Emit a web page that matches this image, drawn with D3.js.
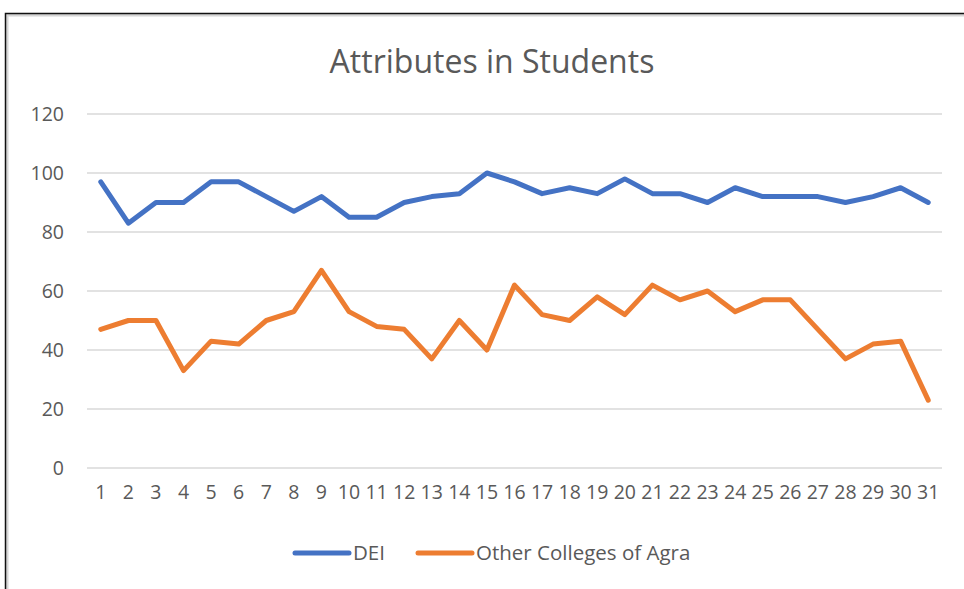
<!DOCTYPE html>
<html>
<head>
<meta charset="utf-8">
<script src="https://cdn.jsdelivr.net/npm/d3@7"></script>
<style>
  html, body { margin: 0; padding: 0; background: #fff; }
  svg { display: block; font-family: "Open Sans", sans-serif; }
</style>
</head>
<body>
<div id="chart"></div>
<script>
const days = d3.range(1, 32).map(String);
const dei = [97, 83, 90, 90, 97, 97, 92, 87, 92, 85, 85, 90, 92, 93, 100, 97, 93, 95, 93, 98,
  93, 93, 90, 95, 92, 92, 92, 90, 92, 95, 90];
const others = [47, 50, 50, 33, 43, 42, 50, 53, 67, 53, 48, 47, 37, 50, 40, 62, 52, 50, 58, 52,
  62, 57, 60, 53, 57, 57, 47, 37, 42, 43, 23];
const yTicks = [0, 20, 40, 60, 80, 100, 120];
const seriesNames = ['DEI', 'Other Colleges of Agra'];
const seriesColors = ['#4472C4', '#ED7D31'];

const W = 964, H = 589;
const m = { left: 87, right: 22, top: 114, bottom: 121 };

const svg = d3.select('#chart').append('svg').attr('width', W).attr('height', H);

// frame of the pasted chart
svg.append('path')
  .attr('d', `M7,${H} V15 H${W}`)
  .attr('fill', 'none').attr('stroke', '#d6d6d6').attr('stroke-width', 3);
svg.append('path')
  .attr('d', `M5.5,${H} V13.5 H${W}`)
  .attr('fill', 'none').attr('stroke', '#111').attr('stroke-width', 1.5);

const x = d3.scaleBand().domain(days).range([m.left, W - m.right]);
const y = d3.scaleLinear().domain([0, 120]).range([H - m.bottom, m.top]);

svg.append('text')
  .attr('x', 492).attr('y', 73)
  .attr('text-anchor', 'middle')
  .attr('font-size', 32).attr('fill', '#595959')
  .text('Attributes in Students');

// grid
svg.append('g')
  .selectAll('line')
  .data(yTicks)
  .join('line')
  .attr('x1', m.left).attr('x2', W - m.right)
  .attr('y1', (d) => y(d)).attr('y2', (d) => y(d))
  .attr('stroke', '#d9d9d9').attr('stroke-width', 1.5);

// y labels
svg.append('g')
  .selectAll('text')
  .data(yTicks)
  .join('text')
  .attr('x', 64).attr('y', (d) => y(d))
  .attr('dy', '0.36em')
  .attr('text-anchor', 'end')
  .attr('font-size', 19.5).attr('fill', '#595959')
  .text((d) => d);

// x labels
svg.append('g')
  .selectAll('text')
  .data(days)
  .join('text')
  .attr('x', (d) => x(d) + x.bandwidth() / 2).attr('y', 499)
  .attr('text-anchor', 'middle')
  .attr('font-size', 19.5).attr('fill', '#595959')
  .text((d) => d);

const line = d3.line()
  .x((d, i) => x(days[i]) + x.bandwidth() / 2)
  .y((d) => y(d));

[dei, others].forEach((vals, i) => {
  svg.append('path')
    .datum(vals)
    .attr('d', line)
    .attr('fill', 'none')
    .attr('stroke', seriesColors[i])
    .attr('stroke-width', 5)
    .attr('stroke-linejoin', 'round')
    .attr('stroke-linecap', 'round');
});

// legend
const legendX = [295, 418];
const lg = svg.append('g')
  .selectAll('g')
  .data(seriesNames)
  .join('g')
  .attr('transform', (d, i) => `translate(${legendX[i]},553)`);
lg.append('line')
  .attr('x1', 0).attr('x2', 54)
  .attr('stroke', (d, i) => seriesColors[i])
  .attr('stroke-width', 5).attr('stroke-linecap', 'round');
lg.append('text')
  .attr('x', 58).attr('dy', '0.36em')
  .attr('font-size', 20.5).attr('fill', '#595959')
  .text((d) => d);
</script>
</body>
</html>
